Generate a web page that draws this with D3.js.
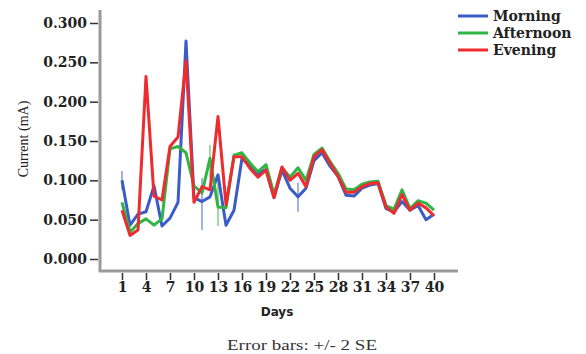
<!DOCTYPE html>
<html>
<head>
<meta charset="utf-8">
<script src="https://cdn.jsdelivr.net/npm/d3@7"></script>
<style>
  body { margin: 0; background: #fff; }
  svg { display: block; }
</style>
</head>
<body>
<svg width="586" height="354"></svg>
<script>
// days 1..40
var days = d3.range(1, 41);
var morning = [0.100, 0.043, 0.057, 0.060, 0.093, 0.042, 0.052, 0.072, 0.277, 0.078,
               0.073, 0.079, 0.107, 0.043, 0.062, 0.128, 0.118, 0.108, 0.114, 0.078,
               0.113, 0.090, 0.079, 0.090, 0.125, 0.135, 0.118, 0.105, 0.081, 0.080,
               0.090, 0.094, 0.096, 0.064, 0.060, 0.073, 0.062, 0.068, 0.050, 0.057];
var afternoon = [0.072, 0.034, 0.045, 0.051, 0.043, 0.051, 0.140, 0.143, 0.135, 0.093,
                 0.084, 0.128, 0.066, 0.065, 0.132, 0.135, 0.122, 0.111, 0.120, 0.082,
                 0.116, 0.104, 0.116, 0.100, 0.133, 0.141, 0.124, 0.109, 0.089, 0.088,
                 0.095, 0.098, 0.099, 0.068, 0.063, 0.088, 0.064, 0.074, 0.071, 0.062];
var evening = [0.062, 0.030, 0.037, 0.232, 0.080, 0.075, 0.143, 0.155, 0.252, 0.072,
               0.092, 0.088, 0.181, 0.069, 0.130, 0.130, 0.115, 0.104, 0.113, 0.078,
               0.117, 0.100, 0.109, 0.092, 0.130, 0.139, 0.122, 0.105, 0.085, 0.085,
               0.092, 0.096, 0.097, 0.066, 0.058, 0.082, 0.062, 0.071, 0.065, 0.055];
// visible error bars [day, low, high]
var morningErr = [[1, 0.088, 0.112], [11, 0.037, 0.103], [23, 0.060, 0.097]];
var afternoonErr = [[12, 0.104, 0.145], [13, 0.042, 0.098]];
var eveningErr = [];
var seriesNames = ["Morning", "Afternoon", "Evening"];
var seriesColors = ["#3b5cc4", "#2fb544", "#ee2b2f"];
var yTicks = [0, 0.05, 0.1, 0.15, 0.2, 0.25, 0.3];
var xTicks = d3.range(1, 41, 3);

var svg = d3.select("svg");
var serif = "'DejaVu Serif', serif";

var x = d3.scaleLinear().domain([1, 40]).range([122, 434]);
var y = d3.scaleLinear().domain([0, 0.3]).range([259, 23]);

// frame (grey axis lines)
svg.append("line").attr("x1", 100).attr("x2", 100).attr("y1", 10).attr("y2", 272)
  .attr("stroke", "#9a9a9a").attr("stroke-width", 3);
svg.append("line").attr("x1", 99).attr("x2", 458).attr("y1", 271).attr("y2", 271)
  .attr("stroke", "#9a9a9a").attr("stroke-width", 3);

// y axis
var yAxis = svg.append("g")
  .attr("transform", "translate(98,0)")
  .call(d3.axisLeft(y).tickValues(yTicks).tickFormat(d3.format(".3f")).tickSize(8).tickPadding(3));
yAxis.select(".domain").remove();
yAxis.selectAll("line").attr("stroke", "#333").attr("stroke-width", 1.5);
yAxis.selectAll("text").attr("font-family", serif).attr("font-weight", "bold")
  .attr("font-size", 14).attr("fill", "#222");

// x axis
var xAxis = svg.append("g")
  .attr("transform", "translate(0,273)")
  .call(d3.axisBottom(x).tickValues(xTicks).tickSize(7).tickPadding(2));
xAxis.select(".domain").remove();
xAxis.selectAll("line").attr("stroke", "#333").attr("stroke-width", 1.5);
xAxis.selectAll("text").attr("font-family", serif).attr("font-weight", "bold")
  .attr("font-size", 14).attr("fill", "#222");

// error bars
var errs = [morningErr, afternoonErr, eveningErr];
errs.forEach(function (list, i) {
  svg.append("g").selectAll("line")
    .data(list)
    .enter().append("line")
    .attr("x1", function (d) { return x(d[0]); })
    .attr("x2", function (d) { return x(d[0]); })
    .attr("y1", function (d) { return y(d[1]); })
    .attr("y2", function (d) { return y(d[2]); })
    .attr("stroke", seriesColors[i])
    .attr("stroke-opacity", 0.6)
    .attr("stroke-width", 1.6);
});

// lines
var line = d3.line()
  .x(function (d, i) { return x(days[i]); })
  .y(function (d) { return y(d); });

[morning, afternoon, evening].forEach(function (vals, i) {
  svg.append("path")
    .attr("d", line(vals))
    .attr("fill", "none")
    .attr("stroke", seriesColors[i])
    .attr("stroke-width", 3)
    .attr("stroke-linejoin", "round");
});

// legend
var legend = svg.append("g").selectAll("g")
  .data(seriesNames)
  .enter().append("g")
  .attr("transform", function (d, i) { return "translate(458," + (16 + i * 17) + ")"; });
legend.append("line")
  .attr("x1", 0).attr("x2", 30)
  .attr("stroke", function (d, i) { return seriesColors[i]; })
  .attr("stroke-width", 3);
legend.append("text")
  .attr("x", 35).attr("dy", "0.35em")
  .attr("font-family", serif).attr("font-weight", "bold").attr("font-size", 14)
  .attr("fill", "#222")
  .text(function (d) { return d; });

// titles
svg.append("text")
  .attr("transform", "translate(28,139) rotate(-90)")
  .attr("text-anchor", "middle")
  .attr("font-family", "'Liberation Serif', serif").attr("font-size", 14)
  .attr("fill", "#222")
  .text("Current (mA)");

svg.append("text")
  .attr("x", 277).attr("y", 316)
  .attr("text-anchor", "middle")
  .attr("font-family", "'DejaVu Sans', sans-serif").attr("font-weight", "bold").attr("font-size", 12)
  .attr("fill", "#222")
  .text("Days");

svg.append("text")
  .attr("x", 302).attr("y", 350)
  .attr("text-anchor", "middle")
  .attr("font-family", "'Liberation Serif', serif").attr("font-size", 15)
  .attr("fill", "#333")
  .attr("textLength", 150)
  .attr("lengthAdjust", "spacingAndGlyphs")
  .text("Error bars: +/- 2 SE");
</script>
</body>
</html>
